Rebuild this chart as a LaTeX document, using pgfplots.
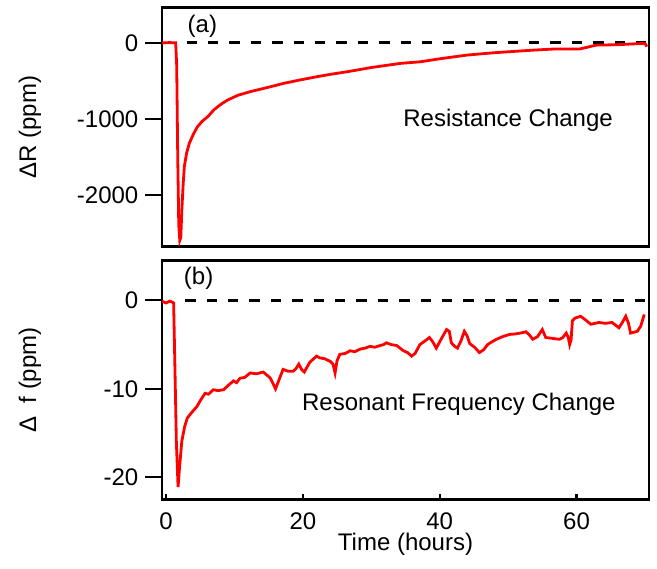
\documentclass[border=0pt]{standalone}
\usepackage{fontspec}
\setmainfont{Liberation Sans}
\usepackage{pgfplots}
\pgfplotsset{compat=1.18}
\begin{document}
\begin{tikzpicture}
\useasboundingbox (0,0) rectangle (328.5pt,284pt);
\pgfplotsset{
  common/.style={
    scale only axis, width=243.5pt, height=119.5pt, anchor=south west,
    xmin=-0.6, xmax=70.6,
    axis line style={line width=1.2pt},
    ytick pos=left, xtick pos=bottom,
    tick align=outside,
    major tick length=8.3pt,
    minor tick length=3pt,
    major tick style={black, line width=1.1pt},
    /pgf/number format/assume math mode=true,
    /pgf/number format/1000 sep={},
    tick label style={font=\fontsize{12}{14}\selectfont},
    label style={font=\fontsize{12}{14}\selectfont},
  }
}
% ---------- top: resistance ----------
\begin{axis}[common, at={(81pt,160.75pt)},
  ymin=-2680, ymax=465,
  ytick={-2000,-1000,0}, yticklabels={-2000,-1000,0},
  xtick=\empty,
  ylabel={ΔR (ppm)},
  ylabel style={at={(axis description cs:-0.271,0.5)}, anchor=center},
]
\addplot[black, line width=1.4pt, dash pattern=on 5.2pt off 5.5pt] coordinates {(3,0) (70.2,0)};
\addplot[red, line width=1.4pt] coordinates {
(-0.6,0) (0,0) (0.5,4) (1.0,0) (1.4,0) (1.55,-300) (1.7,-1500) (1.85,-2400) (2.0,-2600) (2.15,-2560) (2.3,-2200) (2.5,-1850) (2.67,-1627) (3.0,-1450) (3.4,-1320) (4.0,-1200) (4.6,-1102) (5.3,-1030) (6.1,-971) (7.0,-880) (8.0,-810) (9.0,-752) (10.5,-690) (12.4,-640) (14.5,-595) (17.2,-533) (19.5,-490) (22.1,-445) (24,-415) (26.5,-380) (30,-325) (34.3,-270) (37.2,-249) (40,-210) (44,-161) (48,-130) (53.7,-96) (57,-80) (60.5,-80) (62.9,-30) (66,-25) (68,-15) (70,-8) (70.3,-50)
};
\node[font=\fontsize{12}{14}\selectfont] at (axis cs:5.3,219) {(a)};
\node[font=\fontsize{12}{14}\selectfont, anchor=base] at (axis cs:50,-1106) {Resistance Change};
\end{axis}
% ---------- bottom: frequency ----------
\begin{axis}[common, at={(81pt,34.25pt)},
  ymin=-22.5, ymax=4.5,
  ytick={-20,-10,0}, yticklabels={-20,-10,0},
  xtick={0,20,40,60}, xticklabels={0,20,40,60},
  major x tick style={draw=none},
  minor xtick={0,20,40,60},
  minor x tick style={black, line width=1.1pt, yshift=3pt},
  x tick label style={yshift=3pt, inner sep=1pt},
  ylabel={Δ\ \ f (ppm)},
  ylabel style={at={(axis description cs:-0.271,0.5)}, anchor=center},
  xlabel={Time (hours)},
  xlabel style={at={(axis description cs:0.5,-0.186)}, anchor=center, inner sep=0pt},
]
\addplot[black, line width=1.4pt, dash pattern=on 5.2pt off 5.5pt] coordinates {(2.8,0) (70.2,0)};
\addplot[red, line width=1.4pt] coordinates {
(-0.6,-0.1) (0,-0.3) (0.5,-0.1) (0.9,-0.2) (1.1,-0.3) (1.3,-8) (1.5,-16) (1.75,-21.1) (1.95,-19) (2.3,-15.9) (2.7,-14.3) (3.1,-13.3) (3.6,-12.8) (4.5,-12.0) (5.1,-11.2) (5.7,-10.5) (6.2,-10.6) (6.9,-10.1) (7.6,-10.2) (8.4,-10.1) (9.1,-9.6) (9.85,-9.1) (10.3,-9.3) (10.8,-8.8) (11.5,-8.7) (12.3,-8.2) (13.2,-8.3) (14.2,-8.1) (15.2,-8.75) (15.7,-9.5) (16.0,-10.0) (16.5,-9.0) (17.1,-7.8) (17.8,-8.0) (18.6,-8.0) (19.0,-7.7) (19.4,-7.2) (19.8,-7.8) (20.2,-8.1) (21.0,-7.0) (22.0,-6.3) (22.5,-6.5) (23.2,-6.6) (24.0,-6.9) (24.4,-7.2) (24.7,-8.2) (25.0,-6.8) (25.4,-6.1) (26.2,-6.0) (26.9,-5.7) (27.6,-5.8) (28.4,-5.5) (29.1,-5.4) (29.8,-5.2) (30.5,-5.3) (31.3,-5.1) (31.8,-5.0) (32.2,-4.8) (32.9,-5.0) (33.7,-5.1) (34.2,-5.4) (34.7,-5.7) (35.3,-5.9) (35.9,-6.3) (36.4,-6.0) (37.1,-5.0) (38.0,-4.5) (38.5,-4.2) (39.0,-4.7) (39.5,-5.4) (40.2,-4.4) (41.0,-3.3) (41.4,-3.5) (41.7,-4.8) (42.2,-5.2) (42.6,-5.4) (43.1,-4.6) (43.6,-3.5) (44.0,-4.0) (44.4,-4.9) (45.1,-5.3) (45.8,-5.9) (46.4,-5.6) (47.0,-5.0) (47.6,-4.7) (48.3,-4.4) (49.2,-4.1) (50.2,-3.85) (51.0,-3.8) (51.8,-3.7) (52.6,-3.55) (53.1,-3.9) (53.6,-4.4) (54.3,-4.1) (55.0,-3.3) (55.5,-4.2) (56.5,-4.3) (57.5,-4.4) (58.0,-4.2) (58.5,-3.7) (58.8,-4.2) (59.0,-5.0) (59.2,-4.5) (59.4,-2.3) (59.8,-2.0) (60.6,-1.8) (61.3,-2.2) (62.1,-2.7) (62.7,-2.6) (63.3,-2.5) (64.2,-2.6) (65.2,-2.5) (65.7,-2.8) (66.2,-3.1) (66.7,-2.5) (67.2,-1.8) (67.6,-2.6) (67.9,-3.7) (68.4,-3.6) (68.9,-3.5) (69.4,-2.9) (69.9,-1.6)
};
\node[font=\fontsize{12}{14}\selectfont] at (axis cs:4.75,2.5) {(b)};
\node[font=\fontsize{12}{14}\selectfont, anchor=base] at (axis cs:42.8,-12.5) {Resonant Frequency Change};
\end{axis}
\end{tikzpicture}
\end{document}
